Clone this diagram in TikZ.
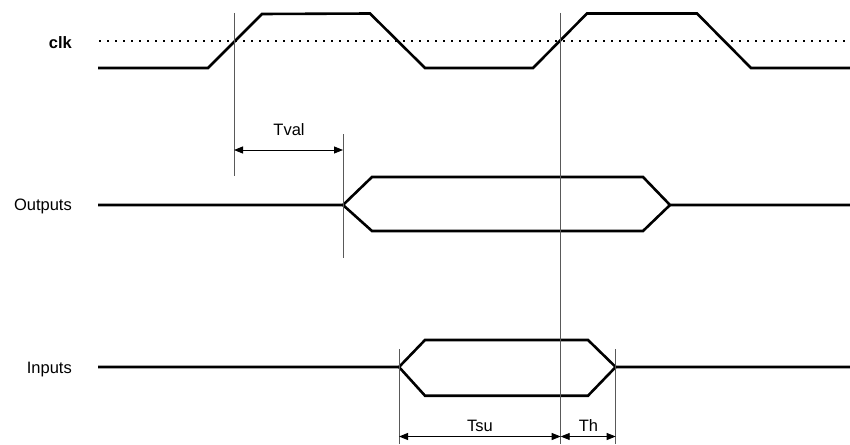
\documentclass[tikz,border=0pt]{standalone}
\usepackage{fontspec}
\setmainfont{Liberation Sans}
\usetikzlibrary{arrows.meta}
\begin{document}
\begin{tikzpicture}[x=1pt,y=-1pt,
 sig/.style={line width=2.6pt, line join=miter},
 guide/.style={line width=0.9pt, black!65},
 dim/.style={line width=0.9pt, {Triangle[length=9pt,width=7pt]}-{Triangle[length=9pt,width=7pt]}},
 lbl/.style={font=\fontsize{16.5}{18}\selectfont, inner sep=0pt},
]
\useasboundingbox (0,0) rectangle (850,444);
% labels
\node[lbl, anchor=base east] (clkl) at (72,48.3) {\textbf{clk}};
\node[lbl, anchor=base east] (outl) at (72,210.7) {Outputs};
\node[lbl, anchor=base east] (inl) at (72,373.3) {Inputs};
% threshold
\draw[line width=1.8pt, dash pattern=on 1.8pt off 6.2pt] (99,41.3) -- (850,41.3);
% clock
\draw[sig] (98,68) -- (208,68) -- (262,14) -- (370,13.5) -- (425,68) -- (533,68)
  -- (587,13.5) -- (697,13.5) -- (751,68) -- (850,68);
% outputs
\draw[sig] (98,205) -- (343,205) -- (372,177) -- (643,177) -- (670,205) -- (850,205);
\draw[sig] (343,205) -- (372,231) -- (643,231) -- (670,205);
% inputs
\draw[sig] (98,367) -- (399,367) -- (425,340) -- (588,340) -- (615.7,367) -- (850,367);
\draw[sig] (399,367) -- (425,395.7) -- (588,395.7) -- (615.7,367);
% guides
\coordinate (g1t) at (234,13);   \coordinate (g1b) at (234,176);
\coordinate (g2t) at (343,134);  \coordinate (g2b) at (343,258);
\coordinate (g3t) at (560.7,13); \coordinate (g3b) at (560.7,444);
\coordinate (g4t) at (399,349);  \coordinate (g4b) at (399,444);
\coordinate (g5t) at (615.7,349);\coordinate (g5b) at (615.7,444);
\draw[guide] (g1t) -- (g1b);
\draw[guide] (g2t) -- (g2b);
\draw[guide] (g3t) -- (g3b);
\draw[guide] (g4t) -- (g4b);
\draw[guide] (g5t) -- (g5b);
% dimension arrows
\coordinate (tva) at (234,150);   \coordinate (tvb) at (343,150);
\coordinate (tsa) at (399,436.5); \coordinate (tsb) at (560.7,436.5);
\coordinate (tha) at (560.7,436.5); \coordinate (thb) at (615.7,436.5);
\draw[dim] (tva) -- (tvb);
\draw[dim] (tsa) -- (tsb);
\draw[dim] (tha) -- (thb);
\node[lbl, anchor=base] (tval) at (289,135) {Tval};
\node[lbl, anchor=base] (tsu) at (480,431.7) {Tsu};
\node[lbl, anchor=base] (th) at (588.5,431.7) {Th};
\end{tikzpicture}
\end{document}
